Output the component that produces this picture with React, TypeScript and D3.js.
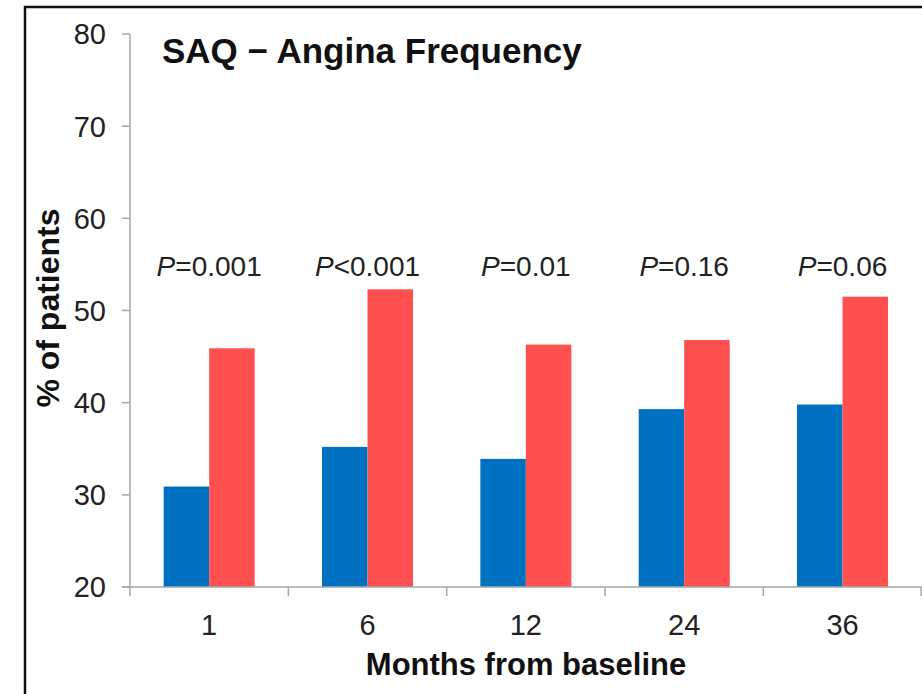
import React from 'react';
import * as d3 from 'd3';

const months = ['1', '6', '12', '24', '36'];
const blueValues = [30.9, 35.2, 33.9, 39.3, 39.8];
const redValues = [45.9, 52.3, 46.3, 46.8, 51.5];
const pLabels = ['=0.001', '<0.001', '=0.01', '=0.16', '=0.06'];
const yTicks = [20, 30, 40, 50, 60, 70, 80];

const W = 922;
const H = 694;
const FONT = '"Liberation Sans", Arial, sans-serif';
const AXIS = '#a6a6a6';

const App = () => {
    const x = d3.scaleBand().domain(months).range([130, 921.7]);
    const inner = d3.scaleBand().domain(['blue', 'red']).range([0, x.bandwidth()]).paddingOuter(0.74);
    const y = d3.scaleLinear().domain([20, 80]).range([587, 34]);
    const colors = { blue: '#0070c0', red: '#ff5050' };

    const bars = months.flatMap((m, i) => [
        { m, key: 'blue', v: blueValues[i] },
        { m, key: 'red', v: redValues[i] },
    ]);

    return (
        <svg width={W} height={H} style={{ position: 'absolute', left: 0, top: 0, background: '#fff' }} fontFamily={FONT}>
            <path d={`M25,${H} V7 H${W}`} fill="none" stroke="#111" strokeWidth={2.5} />

            {bars.map(b => (
                <rect key={b.m + b.key}
                    x={x(b.m)! + inner(b.key)!}
                    y={y(b.v)}
                    width={inner.bandwidth()}
                    height={y(20) - y(b.v)}
                    fill={colors[b.key]} />
            ))}

            {/* y axis */}
            <line x1={130} x2={130} y1={y(80)} y2={y(20)} stroke={AXIS} strokeWidth={1.5} />
            {yTicks.map(t => (
                <g key={t}>
                    <line x1={122} x2={130} y1={y(t)} y2={y(t)} stroke={AXIS} strokeWidth={1.5} />
                    <text x={106} y={y(t)} dy="0.36em" textAnchor="end" fontSize={29} fill="#222">{t}</text>
                </g>
            ))}

            {/* x axis */}
            <line x1={122} x2={W} y1={y(20)} y2={y(20)} stroke={AXIS} strokeWidth={1.5} />
            {months.map(m => (
                <line key={'t' + m} x1={x(m)!} x2={x(m)!} y1={y(20)} y2={y(20) + 9} stroke={AXIS} strokeWidth={1.5} />
            ))}
            <line x1={921.2} x2={921.2} y1={y(20)} y2={y(20) + 9} stroke={AXIS} strokeWidth={1.5} />
            {months.map(m => (
                <text key={'l' + m} x={x(m)! + x.bandwidth() / 2} y={635} textAnchor="middle" fontSize={29} fill="#222">{m}</text>
            ))}

            {/* p values */}
            {months.map((m, i) => (
                <text key={'p' + m} x={x(m)! + x.bandwidth() / 2} y={276} textAnchor="middle" fontSize={28} fill="#222">
                    <tspan fontStyle="italic">P</tspan>{pLabels[i]}
                </text>
            ))}

            <text x={162} y={63} fontSize={35} fontWeight="bold" fill="#111">SAQ − Angina Frequency</text>
            <text x={526} y={675} textAnchor="middle" fontSize={31} fontWeight="bold" fill="#111">Months from baseline</text>
            <text transform="translate(59,308) rotate(-90)" textAnchor="middle" fontSize={32} fontWeight="bold" fill="#111">% of patients</text>
        </svg>
    );
};

export default App;
